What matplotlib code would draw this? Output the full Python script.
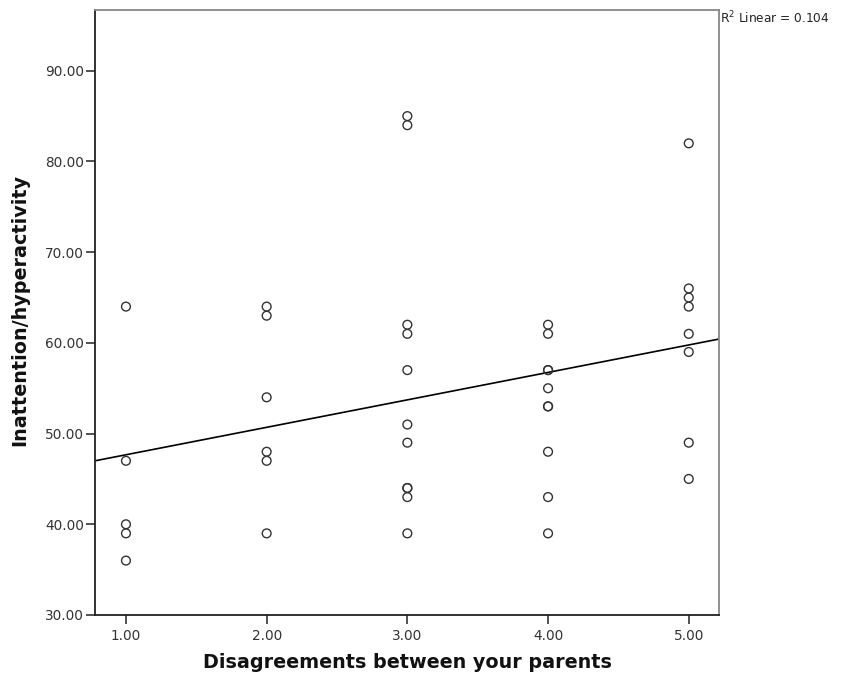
import numpy as np
import matplotlib
matplotlib.use("Agg")
import matplotlib.pyplot as plt

# Data
x1 = [64, 47, 40, 39, 36]
x2 = [64, 63, 54, 48, 47, 39]
x3 = [85, 84, 62, 61, 57, 51, 49, 44, 44, 43, 39]
x4 = [62, 61, 57, 57, 55, 53, 53, 48, 43, 39]
x5 = [82, 66, 65, 64, 61, 59, 49, 45]
groups = [1.0, 2.0, 3.0, 4.0, 5.0]
values = [x1, x2, x3, x4, x5]

xticks = [1.0, 2.0, 3.0, 4.0, 5.0]
yticks = [30, 40, 50, 60, 70, 80, 90]
r2_label = "R$^2$ Linear = 0.104"

xs = np.concatenate([[g] * len(v) for g, v in zip(groups, values)])
ys = np.concatenate(values).astype(float)

fig = plt.figure(figsize=(8.56, 6.81), dpi=100)
ax = fig.add_axes([95 / 856, 1 - 615 / 681, (719 - 95) / 856, (615 - 10) / 681])

ax.scatter(xs, ys, s=40, facecolors="none", edgecolors="#333333", linewidths=1.0, zorder=3)

xlim = (0.78, 5.215)
slope, intercept = np.polyfit(xs, ys, 1)
lx = np.array(xlim)
ax.plot(lx, intercept + slope * lx, color="black", lw=1.2, zorder=2)

ax.set_xlim(*xlim)
ax.set_ylim(30, 96.7)
ax.set_xticks(xticks)
ax.set_xticklabels([f"{t:.2f}" for t in xticks])
ax.set_yticks(yticks)
ax.set_yticklabels([f"{t:.2f}" for t in yticks])

for s in ["left", "bottom"]:
    ax.spines[s].set_color("#222222")
    ax.spines[s].set_linewidth(1.3)
for s in ["top", "right"]:
    ax.spines[s].set_color("#888888")
    ax.spines[s].set_linewidth(1.3)

ax.tick_params(axis="both", direction="out", length=6.5, width=1.1, color="#222222",
               labelsize=9.8, labelcolor="#333333")
ax.tick_params(axis="y", pad=1.5)
ax.tick_params(axis="x", pad=3.5)

ax.set_xlabel("Disagreements between your parents", fontsize=13.8, fontweight="bold",
              labelpad=7.5, color="#111111")
ax.set_ylabel("Inattention/hyperactivity", fontsize=13.8, fontweight="bold",
              labelpad=11, color="#111111")
ax.yaxis.label.set_y(0.505)

fig.text(720 / 856, 1 - 18 / 681, r2_label, fontsize=8.7, va="center", ha="left", color="#222222")

fig.savefig("out.png", dpi=100)
